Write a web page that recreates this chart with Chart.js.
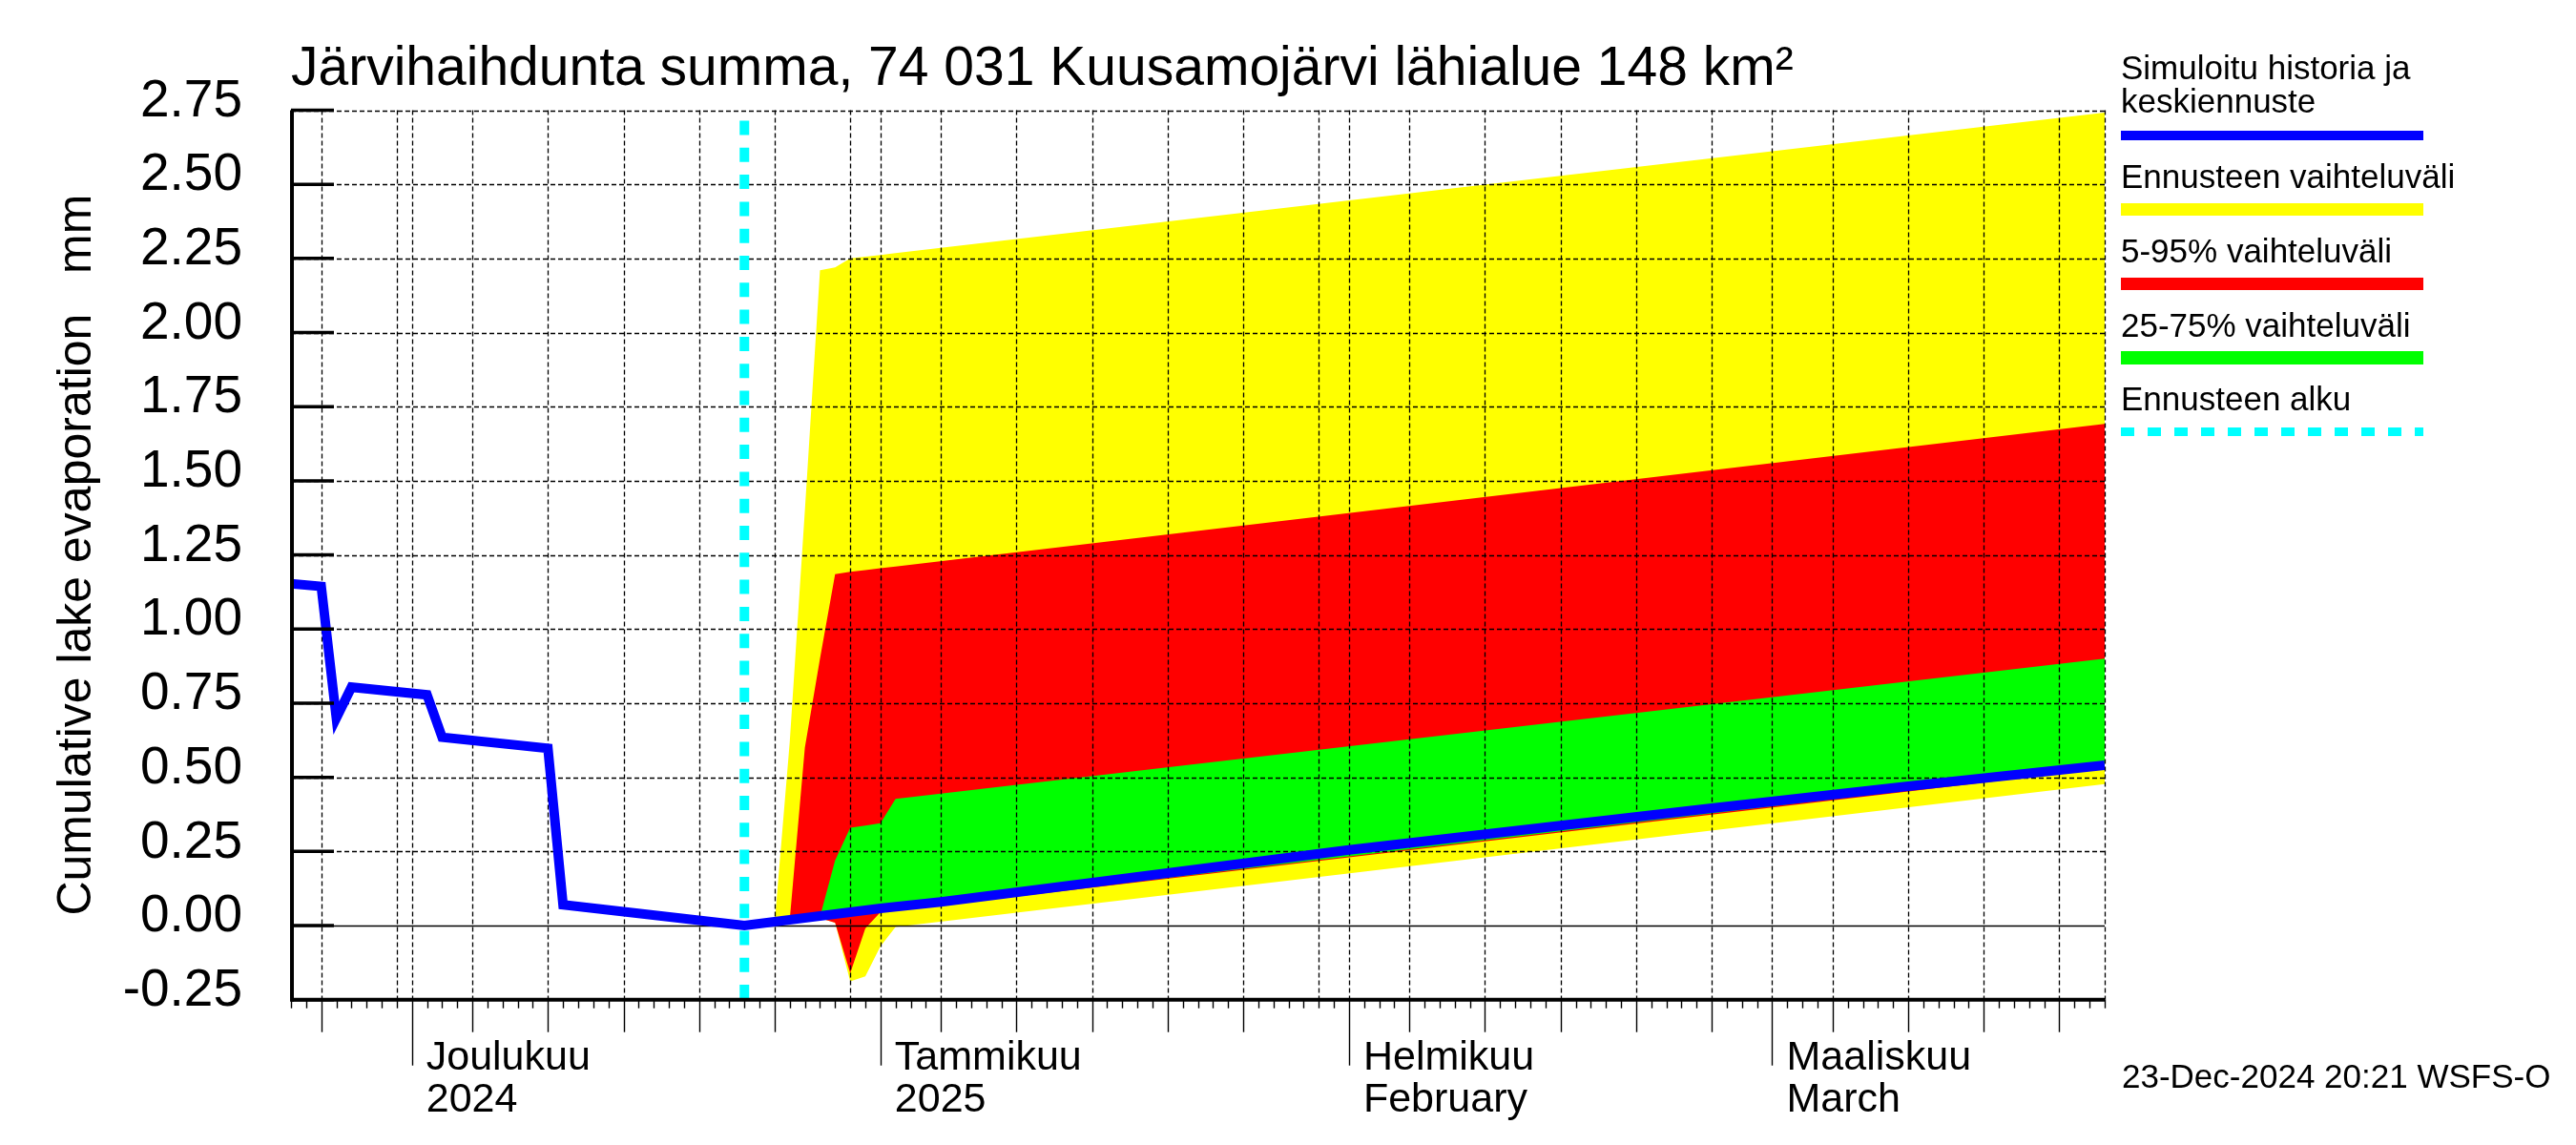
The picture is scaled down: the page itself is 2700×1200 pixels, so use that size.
<!DOCTYPE html>
<html>
<head>
<meta charset="utf-8">
<script src="https://cdn.jsdelivr.net/npm/chart.js@4.4.1/dist/chart.umd.min.js"></script>
<style>
html,body{margin:0;padding:0;background:#ffffff;}
#wrap{width:2700px;height:1200px;position:relative;}
</style>
</head>
<body>
<div id="wrap"><canvas id="c" width="2700" height="1200"></canvas></div>
<script>
const FONT = "'Liberation Sans', Arial, Helvetica, sans-serif";

// ---- texts ----
const titleText = 'Järvihaihdunta summa, 74 031 Kuusamojärvi lähialue 148 km²';
const yAxisTitle = 'Cumulative lake evaporation   mm';
const timestampText = '23-Dec-2024 20:21 WSFS-O';
const legendLabels = [['Simuloitu historia ja', 'keskiennuste'], ['Ennusteen vaihteluväli'], ['5-95% vaihteluväli'], ['25-75% vaihteluväli'], ['Ennusteen alku']];

// ---- x axis (days since 23 Nov 2024) ----
const startDateUTC = Date.UTC(2024, 10, 23);
const dayCount = 120;
const forecastStartDay = 30;
const monthTickDays = [8, 39, 70, 98];
const monthNames = ['Joulukuu', 'Tammikuu', 'Helmikuu', 'Maaliskuu'];
const monthSubLabels = ['2024', '2025', 'February', 'March'];

// ---- y axis ----
const yTickValues = [-0.25, 0, 0.25, 0.5, 0.75, 1.0, 1.25, 1.5, 1.75, 2.0, 2.25, 2.5, 2.75];
const yTickLabels = ['-0.25', '0.00', '0.25', '0.50', '0.75', '1.00', '1.25', '1.50', '1.75', '2.00', '2.25', '2.50', '2.75'];

// ---- series ----
const medianDays   = [0, 2, 3, 4, 9, 10, 17, 18, 30, 39, 43, 70, 94, 107, 120];
const medianValues = [1.153, 1.144, 0.70, 0.804, 0.778, 0.635, 0.598, 0.070, 0.0, 0.058, 0.08, 0.255, 0.396, 0.47, 0.541];

const rangeDays = [30, 32, 33, 34, 35, 36, 37, 38, 39, 40, 120];
const rangeMax  = [0, 0.01, 0.62, 1.40, 2.21, 2.22, 2.25, 2.256, 2.262, 2.268, 2.742];
const rangeMin  = [0, 0.01, 0.015, 0.02, 0.025, 0.01, -0.188, -0.171, -0.07, -0.005, 0.477];

const p5to95Days = [30, 33, 34, 35, 36, 37, 38, 39, 40, 120];
const p95Values  = [0, 0.02, 0.60, 0.90, 1.185, 1.193, 1.199, 1.205, 1.211, 1.692];
const p05Values  = [0, 0.015, 0.02, 0.025, 0.01, -0.161, -0.01, 0.045, 0.05, 0.53];

const p25to75Days = [30, 35, 36, 37, 38, 39, 40, 120];
const p75Values   = [0, 0.03, 0.22, 0.33, 0.337, 0.345, 0.427, 0.90];
const p25Values   = [0, 0.03, 0.03, 0.036, 0.042, 0.05, 0.052, 0.535];

const COL = {blue: '#0000ff', yellow: '#ffff00', red: '#ff0000', green: '#00ff00', cyan: '#00ffff'};

function pts(days, vals) { return days.map((d, i) => ({x: d, y: vals[i]})); }
function dayOfMonth(d) { return new Date(startDateUTC + d * 86400000).getUTCDate(); }
function isGridDay(d) { const m = dayOfMonth(d); return m === 1 || m % 5 === 0 || d === dayCount; }
function isMidTickDay(d) { const m = dayOfMonth(d); return m % 5 === 0 && m !== 30; }

function band(data, color, fill) {
  return {data, fill, backgroundColor: color, borderColor: 'rgba(0,0,0,0)', borderWidth: 0, pointRadius: 0, tension: 0};
}

const deco = {
  id: 'deco',
  beforeDatasetDraw(chart, args) {
    if (args.index !== 0) return;
    const {ctx, chartArea: a, scales: {x, y}} = chart;
    ctx.save();
    ctx.strokeStyle = '#000';
    ctx.lineWidth = 1.3;
    ctx.setLineDash([5, 3]);
    for (let d = 0; d <= dayCount; d++) {
      if (!isGridDay(d)) continue;
      const X = Math.round(x.getPixelForValue(d)) + 0.5;
      ctx.beginPath(); ctx.moveTo(X, a.top); ctx.lineTo(X, a.bottom); ctx.stroke();
    }
    yTickValues.forEach(v => {
      if (v === 0 || v === yTickValues[0]) return;
      const Y = Math.round(y.getPixelForValue(v)) + 0.5;
      ctx.beginPath(); ctx.moveTo(a.left, Y); ctx.lineTo(a.right, Y); ctx.stroke();
    });
    ctx.setLineDash([]);
    ctx.lineWidth = 1.6;
    const Y0 = Math.round(y.getPixelForValue(0)) + 0.5;
    ctx.beginPath(); ctx.moveTo(a.left, Y0); ctx.lineTo(a.right, Y0); ctx.stroke();
    // forecast start line
    const XF = x.getPixelForValue(forecastStartDay);
    ctx.strokeStyle = COL.cyan;
    ctx.lineWidth = 10;
    ctx.setLineDash([15, 13.3]);
    ctx.beginPath(); ctx.moveTo(XF, a.top + 11); ctx.lineTo(XF, a.bottom); ctx.stroke();
    ctx.restore();
  },
  afterDatasetsDraw(chart) {
    const {ctx, chartArea: a, scales: {x, y}} = chart;
    ctx.save();
    ctx.setLineDash([]);
    ctx.strokeStyle = '#000';
    ctx.fillStyle = '#000';
    // axes
    ctx.lineWidth = 4;
    ctx.beginPath(); ctx.moveTo(a.left + 1, a.top); ctx.lineTo(a.left + 1, a.bottom + 2); ctx.stroke();
    ctx.beginPath(); ctx.moveTo(a.left, a.bottom); ctx.lineTo(a.right, a.bottom); ctx.stroke();
    // y ticks inward
    ctx.lineWidth = 3.5;
    yTickValues.forEach(v => {
      const Y = y.getPixelForValue(v);
      ctx.beginPath(); ctx.moveTo(a.left, Y); ctx.lineTo(a.left + 45, Y); ctx.stroke();
    });
    // x ticks
    ctx.lineWidth = 1.4;
    for (let d = 0; d <= dayCount; d++) {
      const X = Math.round(x.getPixelForValue(d)) + 0.5;
      let len = 9;
      if (monthTickDays.includes(d)) len = 69; else if (isMidTickDay(d)) len = 34;
      ctx.beginPath(); ctx.moveTo(X, a.bottom); ctx.lineTo(X, a.bottom + len); ctx.stroke();
    }
    // month labels
    ctx.font = '43px ' + FONT;
    ctx.textAlign = 'left';
    ctx.textBaseline = 'alphabetic';
    monthTickDays.forEach((d, i) => {
      const X = x.getPixelForValue(d) + 15;
      ctx.fillText(monthNames[i], X, 1121);
      ctx.fillText(monthSubLabels[i], X, 1165);
    });
    // title
    ctx.font = '57px ' + FONT;
    ctx.fillText(titleText, 305, 89);
    // timestamp
    ctx.font = '35px ' + FONT;
    ctx.fillText(timestampText, 2224, 1140);
    // legend
    const LX = 2223, LW = 317;
    ctx.font = '35px ' + FONT;
    ctx.fillText(legendLabels[0][0], LX, 83);
    ctx.fillText(legendLabels[0][1], LX, 118);
    ctx.fillStyle = COL.blue; ctx.fillRect(LX, 137, LW, 10);
    ctx.fillStyle = '#000'; ctx.fillText(legendLabels[1][0], LX, 197);
    ctx.fillStyle = COL.yellow; ctx.fillRect(LX, 213, LW, 13);
    ctx.fillStyle = '#000'; ctx.fillText(legendLabels[2][0], LX, 275);
    ctx.fillStyle = COL.red; ctx.fillRect(LX, 291, LW, 13);
    ctx.fillStyle = '#000'; ctx.fillText(legendLabels[3][0], LX, 353);
    ctx.fillStyle = COL.green; ctx.fillRect(LX, 368, LW, 14);
    ctx.fillStyle = '#000'; ctx.fillText(legendLabels[4][0], LX, 430);
    ctx.strokeStyle = COL.cyan; ctx.lineWidth = 9; ctx.setLineDash([14, 14]);
    ctx.beginPath(); ctx.moveTo(LX, 452.5); ctx.lineTo(LX + LW, 452.5); ctx.stroke();
    ctx.restore();
  }
};

new Chart(document.getElementById('c'), {
  type: 'line',
  data: {
    datasets: [
      {data: pts(medianDays, medianValues), borderColor: COL.blue, borderWidth: 10, pointRadius: 0, fill: false, tension: 0, borderJoinStyle: 'miter', borderCapStyle: 'butt'},
      band(pts(p25to75Days, p75Values), COL.green, '+1'),
      band(pts(p25to75Days, p25Values), COL.green, false),
      band(pts(p5to95Days, p95Values), COL.red, '+1'),
      band(pts(p5to95Days, p05Values), COL.red, false),
      band(pts(rangeDays, rangeMax), COL.yellow, '+1'),
      band(pts(rangeDays, rangeMin), COL.yellow, false)
    ]
  },
  options: {
    responsive: false,
    animation: false,
    devicePixelRatio: 1,
    layout: {padding: {left: 0, right: 494, top: 115.5, bottom: 152.3}},
    plugins: {legend: {display: false}, tooltip: {enabled: false}, title: {display: false}},
    scales: {
      x: {type: 'linear', min: 0, max: dayCount, display: false},
      y: {
        type: 'linear', min: -0.25, max: 2.75,
        afterFit(scale) { scale.width = 305; },
        afterBuildTicks(scale) { scale.ticks = yTickValues.map(v => ({value: v})); },
        grid: {display: false, drawTicks: false},
        border: {display: false},
        ticks: {
          padding: 51, labelOffset: -9, color: '#000',
          font: {family: FONT, size: 55},
          callback: (v, i) => yTickLabels[i]
        },
        title: {display: true, text: yAxisTitle, color: '#000', font: {family: FONT, size: 50}, padding: {top: 51}}
      }
    }
  },
  plugins: [deco]
});
</script>
</body>
</html>
